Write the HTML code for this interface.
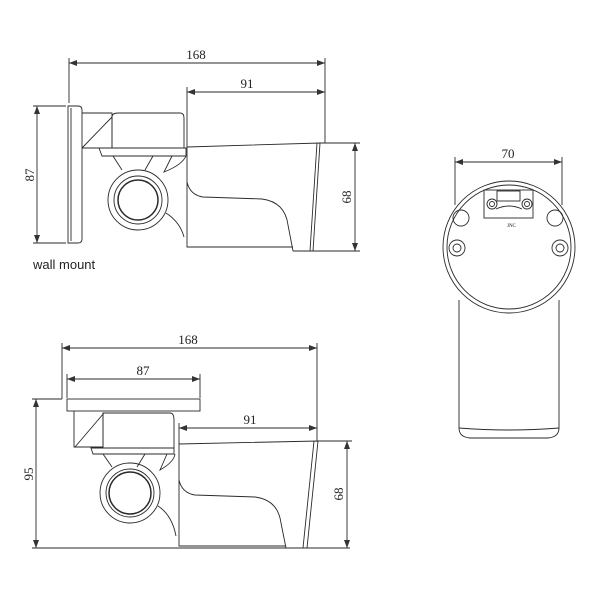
<!DOCTYPE html>
<html><head><style>body{margin:0;background:#fff}svg{display:block}text{font-family:"Liberation Serif",serif;font-size:13px;fill:#222}</style></head><body>
<svg width="600" height="600" viewBox="0 0 600 600" xmlns="http://www.w3.org/2000/svg">
<defs><marker id="a" markerWidth="8" markerHeight="6" refX="8" refY="3" orient="auto-start-reverse" markerUnits="userSpaceOnUse"><path d="M0,0 L8,3 L0,6 z" fill="#333"/></marker></defs>
<g fill="none" stroke="#2a2a2a" stroke-width="0.9">
<line x1="69" y1="63" x2="325" y2="63" marker-start="url(#a)" marker-end="url(#a)"/>
<line x1="187" y1="92" x2="325" y2="92" marker-start="url(#a)" marker-end="url(#a)"/>
<line x1="69" y1="58" x2="69" y2="103"/><line x1="187" y1="87" x2="187" y2="147"/><line x1="325" y1="58" x2="325" y2="143"/>
<line x1="37" y1="106" x2="37" y2="243" marker-start="url(#a)" marker-end="url(#a)"/>
<line x1="33" y1="106" x2="66" y2="106"/><line x1="33" y1="243" x2="66" y2="243"/>
<line x1="355" y1="143" x2="355" y2="251" marker-start="url(#a)" marker-end="url(#a)"/>
<line x1="320" y1="143" x2="360" y2="143"/><line x1="313" y1="251" x2="360" y2="251"/>
<path d="M68,106 H78 Q82,106 82,110 V239 Q82,243 78,243 H68 Z"/>
<line x1="71" y1="108" x2="71" y2="241"/>
<path d="M82,113 H112 V148 H82"/><line x1="82" y1="148" x2="112" y2="117"/>
<path d="M112,148 V117 Q112,113 118,113 H180 Q184,113 184,118 V148 Z"/>
<path d="M99,148 H186 V156 H102 Z"/>
<path d="M113,156 L122,170 M153,156 L145,170 M172,156 L164,172 Q182,165 186,156"/>
<circle cx="138" cy="200" r="30"/><circle cx="138" cy="200" r="24"/><circle cx="138" cy="200" r="20" stroke-width="1.5"/>
<path d="M166,213 Q180,222 184,237"/>
<path d="M187,147 L320,143 L313,251 H293 M187,147 V247 H293"/>
<line x1="317" y1="143" x2="310" y2="251"/>
<path d="M187,182 Q190,195 203,197 L262,199 Q285,202 288,225 L293,251"/>
<line x1="62" y1="348" x2="317" y2="348" marker-start="url(#a)" marker-end="url(#a)"/>
<line x1="67" y1="379" x2="200" y2="379" marker-start="url(#a)" marker-end="url(#a)"/>
<line x1="179" y1="428" x2="317" y2="428" marker-start="url(#a)" marker-end="url(#a)"/>
<line x1="62" y1="343" x2="62" y2="399"/><line x1="67" y1="374" x2="67" y2="398"/><line x1="200" y1="374" x2="200" y2="398"/>
<line x1="179" y1="423" x2="179" y2="444"/><line x1="317" y1="343" x2="317" y2="441"/>
<line x1="36" y1="399" x2="36" y2="548" marker-start="url(#a)" marker-end="url(#a)"/>
<line x1="32" y1="399" x2="62" y2="399"/><line x1="32" y1="548" x2="350" y2="548"/>
<line x1="347" y1="441" x2="347" y2="548" marker-start="url(#a)" marker-end="url(#a)"/>
<line x1="318" y1="441" x2="352" y2="441"/>
<rect x="67" y="399" width="133" height="12"/>
<path d="M74,411 V447 H103 V413"/><line x1="75" y1="447" x2="104" y2="413"/>
<path d="M103,448 V413 H170 Q174,413 174,420 V448 Z"/>
<path d="M91,448 H174 V454 H93 Z"/>
<path d="M103,454 L112,467 M145,454 L137,467 M167,454 L160,470 Q174,462 175,454"/>
<circle cx="130" cy="493" r="30"/><circle cx="130" cy="493" r="24"/><circle cx="130" cy="493" r="21" stroke-width="1.5"/>
<path d="M158,506 Q172,515 176,536"/>
<path d="M179,444 L318,441 L307,548 H286 M179,444 V546 H286"/>
<line x1="314" y1="441" x2="303" y2="548"/>
<path d="M179,480 Q182,493 195,495 L255,497 Q278,500 281,523 L286,548"/>
<line x1="455" y1="162" x2="562" y2="162" marker-start="url(#a)" marker-end="url(#a)"/>
<line x1="455" y1="157" x2="455" y2="205"/><line x1="562" y1="157" x2="562" y2="205"/>
<path d="M459,300 V428 Q459,437 470,438 H548 Q559,437 559,428 V300"/>
<path d="M459,428 Q509,432 559,428"/>
<circle cx="509" cy="247" r="66"/><circle cx="509" cy="247" r="62"/>
<rect x="484" y="190" width="49" height="28"/><rect x="497" y="191" width="23" height="10"/>
<path d="M496,209 Q509,203 522,209"/>
<circle cx="492" cy="204" r="5"/><circle cx="492" cy="204" r="2.5"/>
<circle cx="527" cy="204" r="5"/><circle cx="527" cy="204" r="2.5"/>
<circle cx="461" cy="218" r="8"/><circle cx="555" cy="218" r="8"/>
<circle cx="457" cy="248" r="8"/><circle cx="457" cy="248" r="4"/>
<circle cx="560" cy="248" r="8"/><circle cx="560" cy="248" r="4"/>
</g>
<text x="196" y="59" text-anchor="middle">168</text>
<text x="247" y="88" text-anchor="middle">91</text>
<text transform="translate(34,175) rotate(-90)" text-anchor="middle">87</text>
<text transform="translate(351,197) rotate(-90)" text-anchor="middle">68</text>
<text x="33" y="269" style="font-family:'Liberation Sans',sans-serif;font-size:13px">wall mount</text>
<text x="188" y="344" text-anchor="middle">168</text>
<text x="143" y="375" text-anchor="middle">87</text>
<text x="250" y="424" text-anchor="middle">91</text>
<text transform="translate(33,474) rotate(-90)" text-anchor="middle">95</text>
<text transform="translate(343,494) rotate(-90)" text-anchor="middle">68</text>
<text x="508" y="158" text-anchor="middle">70</text>
<text x="507" y="227" style="font-size:5px">JNC</text>
</svg>
</body></html>
